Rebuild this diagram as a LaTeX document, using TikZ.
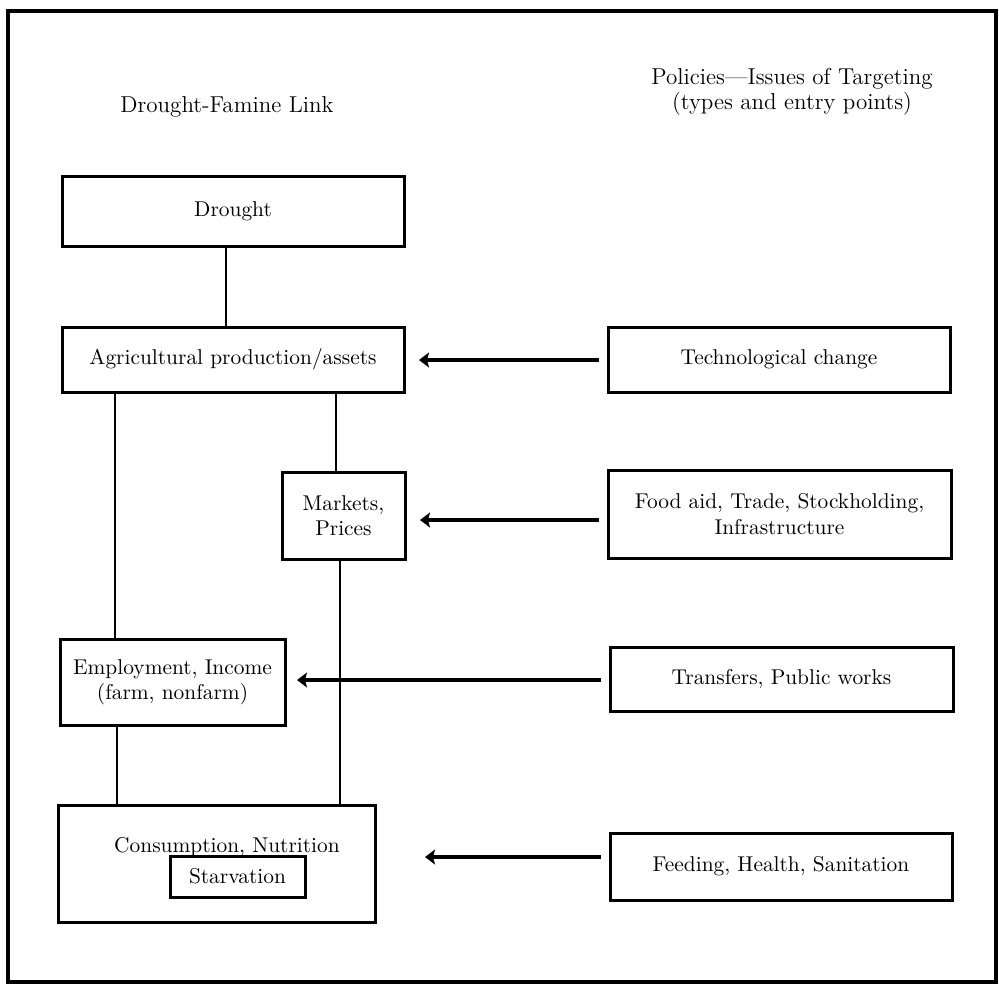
\documentclass[tikz,border=0pt]{standalone}
\usetikzlibrary{arrows.meta}

\newcommand\fampx{0.5pt}
\newcommand\famboxstyle{\fontsize{10.7}{12.6}\selectfont}
\newcommand\famtitlestyle{\fontsize{11.5}{12.5}\selectfont}
\tikzset{
  famframe/.style={line width=2.4pt},
  famboxnode/.style={draw, line width=1.5pt, inner sep=0pt, align=center, font=\famboxstyle},
  famsize/.style 2 args={minimum width=#1*\fampx, minimum height=#2*\fampx},
  famlink/.style={line width=1.2pt},
  famarrow/.style={line width=1.6pt, shorten <=4pt, -{Stealth[length=5pt,width=7.5pt,inset=1pt]}},
}

\begin{document}
\begin{tikzpicture}[x=\fampx, y=-\fampx]
  \useasboundingbox (0,0) rectangle (999,985);
  \draw[famframe] (8,11) rectangle (996,982);
  % titles
  \node[font=\famtitlestyle, anchor=base] (linktitle) at (227,112) {Drought-Famine Link};
  \node[font=\famtitlestyle, align=center] (policytitle) at (792,92) {Policies---Issues of Targeting\\(types and entry points)};
  % left column
  \node[famboxnode, famsize={342}{70}] (drought) at (233,211) {Drought};
  \node[famboxnode, famsize={342}{65}] (agri) at (233,359.5) {Agricultural production/assets};
  \node[famboxnode, famsize={123}{87}] (markets) at (343.5,515.5) {Markets,\\Prices};
  \node[famboxnode, famsize={225}{86}] (employ) at (172.5,682) {Employment, Income\\(farm, nonfarm)};
  \node[famboxnode, famsize={317}{117}] (cons) at (216.5,863.5) {};
  \node[font=\famboxstyle, anchor=base] (constext) at (227,852) {Consumption, Nutrition};
  \node[famboxnode, famsize={135}{41}] (starv) at (237.5,876.5) {Starvation};
  % right column
  \node[famboxnode, famsize={342}{65}] (tech) at (779,359.5) {Technological change};
  \node[famboxnode, famsize={343}{88}] (food) at (779.5,514) {Food aid, Trade, Stockholding,\\Infrastructure};
  \node[famboxnode, famsize={343}{64}] (transfers) at (781.5,679) {Transfers, Public works};
  \node[famboxnode, famsize={342}{67}] (feeding) at (781,866.5) {Feeding, Health, Sanitation};
  % links
  \coordinate (xa) at (226,0);
  \coordinate (xb) at (115,0);
  \coordinate (xc) at (336,0);
  \coordinate (xd) at (340,0);
  \coordinate (xe) at (117,0);
  \draw[famlink] (drought.south -| xa) -- (agri.north -| xa);
  \draw[famlink] (agri.south -| xb) -- (employ.north -| xb);
  \draw[famlink] (agri.south -| xc) -- (markets.north -| xc);
  \draw[famlink] (markets.south -| xd) -- (cons.north -| xd);
  \draw[famlink] (employ.south -| xe) -- (cons.north -| xe);
  % entry points
  \coordinate (tiptech) at (419,360);
  \coordinate (tipfood) at (420,520);
  \coordinate (tiptransfers) at (297,680);
  \coordinate (tipfeeding) at (425,857);
  \draw[famarrow] (tech.west |- tiptech) -- (tiptech);
  \draw[famarrow] (food.west |- tipfood) -- (tipfood);
  \draw[famarrow] (transfers.west |- tiptransfers) -- (tiptransfers);
  \draw[famarrow] (feeding.west |- tipfeeding) -- (tipfeeding);
\end{tikzpicture}
\end{document}
